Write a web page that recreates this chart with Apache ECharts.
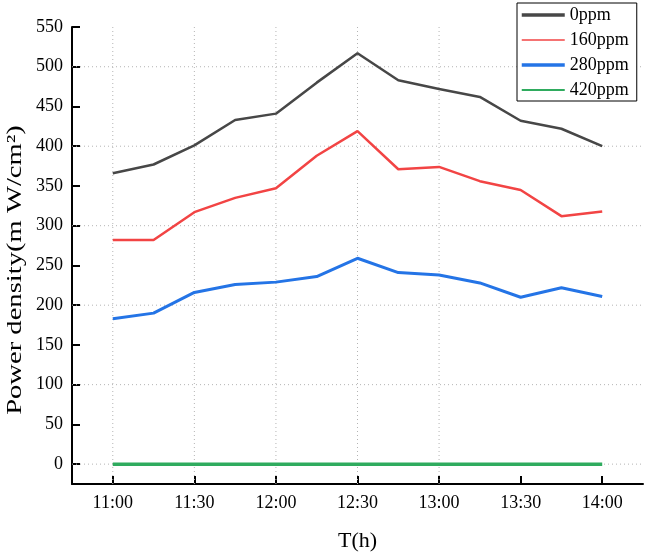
<!DOCTYPE html>
<html>
<head>
<meta charset="utf-8">
<script src="https://cdn.jsdelivr.net/npm/echarts@6/dist/echarts.min.js"></script>
<style>
html, body { margin:0; padding:0; background:#fff; }
#main { width:646px; height:557px; }
</style>
</head>
<body>
<div id="main"></div>
<script>
// data
var times = ['11:00','11:15','11:30','11:45','12:00','12:15','12:30','12:45','13:00','13:15','13:30','13:45','14:00'];
var ppm0   = [366, 377, 401, 433, 441, 480, 517, 483, 472, 462, 432, 422, 400];
var ppm160 = [282, 282, 317, 335, 347, 388, 419, 371, 374, 356, 345, 312, 318];
var ppm280 = [183, 190, 216, 226, 229, 236, 259, 241, 238, 228, 210, 222, 211];
var ppm420 = [0, 0, 0, 0, 0, 0, 0, 0, 0, 0, 0, 0, 0];
var names = ['0ppm', '160ppm', '280ppm', '420ppm'];
var xTicks = ['11:00','11:30','12:00','12:30','13:00','13:30','14:00'];
var xGrid = ['11:00','11:30','12:00','12:30','13:00'];
var yTicks = [0, 50, 100, 150, 200, 250, 300, 350, 400, 450, 500, 550];
var yGrid = [0, 100, 200, 300, 400, 500];

var colors = ['#474747', '#f24444', '#2474e6', '#2fab5e'];
var FONT = '"Liberation Serif", "Times New Roman", serif';
var X_MIN = -15, X_MAX = 195, Y_MIN = -25, Y_MAX = 550;

// minutes after 11:00
function toMin(t){
	var p = t.split(':');
	return (parseInt(p[0]) - 11) * 60 + parseInt(p[1]);
}
function toTime(m){
	var h = 11 + Math.floor(m / 60), mm = m % 60;
	return h + ':' + (mm < 10 ? '0' + mm : mm);
}
function pairs(vals){
	return vals.map(function(v, i){ return [toMin(times[i]), v]; });
}

var lineW = [2.5, 2.5, 3, 3.5];
var legW = [3.5, 1.5, 3.5, 2];
var series = [ppm0, ppm160, ppm280, ppm420].map(function(d, i){
	return {
		name: names[i], type: 'line', symbol: 'none', showSymbol: false, data: pairs(d),
		lineStyle: { color: colors[i], width: lineW[i] },
		itemStyle: { color: colors[i] }, z: 10 - i
	};
});

// dotted grid lines: [dir, value]  (0 = horizontal at y value, 1 = vertical at x value)
var gridData = yGrid.map(function(v){ return [0, v]; })
	.concat(xGrid.map(function(t){ return [1, toMin(t)]; }));
series.push({
	type: 'custom', silent: true, z: 1, data: gridData,
	encode: { x: -1, y: -1 },
	renderItem: function(params, api){
		var dir = api.value(0), v = api.value(1);
		var a = dir === 0 ? api.coord([X_MIN, v]) : api.coord([v, Y_MIN]);
		var b = dir === 0 ? api.coord([X_MAX, v]) : api.coord([v, Y_MAX]);
		return {
			type: 'line',
			shape: { x1: a[0], y1: a[1], x2: b[0], y2: b[1] },
			style: { stroke: '#b4b4b4', lineWidth: 1, lineDash: [1, 3] }
		};
	}
});

var noSplit = { show: false, lineStyle: { color: 'rgba(0,0,0,0)', opacity: 0, width: 0 } };

var option = {
	animation: false,
	backgroundColor: '#fff',
	grid: { left: 72, right: 3, top: 27, bottom: 70 },
	legend: {
		orient: 'vertical', left: 517, top: 3,
		padding: [3, 8, 2, 3], itemGap: 7, itemWidth: 43, itemHeight: 14,
		borderColor: '#000', borderWidth: 1, backgroundColor: '#fff',
		textStyle: { fontFamily: FONT, fontSize: 18, color: '#000' },
		data: names.map(function(n, i){
			return { name: n, itemStyle: { opacity: 0 }, lineStyle: { width: legW[i], color: colors[i] } };
		})
	},
	xAxis: {
		type: 'value', min: X_MIN, max: X_MAX,
		name: 'T(h)', nameLocation: 'middle', nameGap: 46,
		nameTextStyle: { fontFamily: FONT, fontSize: 22, color: '#000' },
		axisLine: { onZero: false, lineStyle: { color: '#000', width: 2 } },
		axisTick: { inside: true, length: 8, lineStyle: { color: '#000', width: 2 }, customValues: xTicks.map(toMin) },
		axisLabel: { margin: 10, fontFamily: FONT, fontSize: 18, color: '#000', customValues: xTicks.map(toMin),
			formatter: function(v){ return toTime(v); } },
		splitLine: noSplit,
		minorSplitLine: { show: false }
	},
	yAxis: {
		type: 'value', min: Y_MIN, max: Y_MAX,
		axisLine: { show: true, onZero: false, lineStyle: { color: '#000', width: 2 } },
		axisTick: { show: true, inside: true, length: 8, lineStyle: { color: '#000', width: 2 }, customValues: yTicks },
		axisLabel: { margin: 9, fontFamily: FONT, fontSize: 18, color: '#000', customValues: yTicks },
		splitLine: noSplit,
		minorSplitLine: { show: false }
	},
	graphic: [{
		type: 'text', x: 15, y: 270, rotation: Math.PI / 2, scaleX: 1.3,
		style: { text: 'Power density(m W/cm²)', fontFamily: FONT, fontSize: 22, fill: '#000',
			align: 'center', verticalAlign: 'middle' }
	}],
	series: series
};

var chart = echarts.init(document.getElementById('main'));
chart.setOption(option);
</script>
</body>
</html>
